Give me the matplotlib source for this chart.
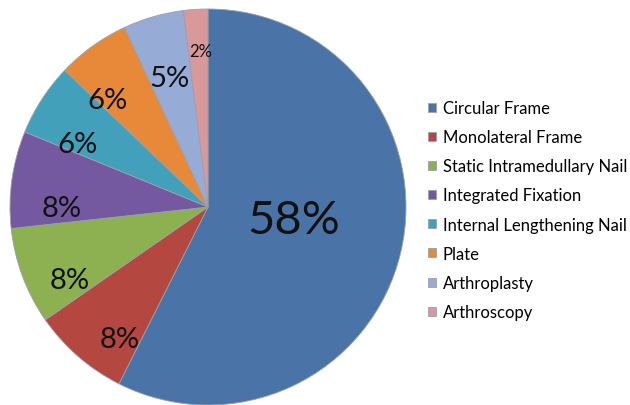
import matplotlib
matplotlib.use("Agg")
import matplotlib.pyplot as plt
import numpy as np

plt.rcParams['font.family'] = ['Lato', 'DejaVu Sans']

# data
categories = ['Circular Frame', 'Monolateral Frame', 'Static Intramedullary Nail',
              'Integrated Fixation', 'Internal Lengthening Nail', 'Plate',
              'Arthroplasty', 'Arthroscopy']
shares = [58, 8, 8, 8, 6, 6, 5, 2]
pct_labels = ['58%', '8%', '8%', '8%', '6%', '6%', '5%', '2%']

colors = ['#4A74A8', '#B4473F', '#8DB051', '#7459A0', '#42A0BA',
          '#E8893A', '#96ABD5', '#D9989A']
# label placement: fraction of radius, and angular shift (deg, clockwise) from the wedge middle
label_dist = [0.44, 0.80, 0.79, 0.74, 0.73, 0.74, 0.68, 0.79]
label_shift = [-4.8, -7.3, -7.4, -8.4, -7.1, -7.5, -0.5, 0.9]
label_size = [34, 21, 21, 21, 21, 21, 21, 12]

fig = plt.figure(figsize=(6.30, 4.06), dpi=100)
ax = fig.add_axes([10 / 630, 0, 396 / 630, 396 / 406])

wedges, _ = ax.pie(shares, colors=colors, startangle=90, counterclock=False,
                   radius=1.0, wedgeprops=dict(linewidth=0.6, edgecolor='#9aa0aa'))
ax.set_xlim(-1, 1)
ax.set_ylim(-1, 1)
ax.set_aspect('equal')

for w, txt, d, sh, fs in zip(wedges, pct_labels, label_dist, label_shift, label_size):
    mid = np.deg2rad((w.theta1 + w.theta2) / 2 - sh)
    ax.text(d * np.cos(mid), d * np.sin(mid), txt, ha='center', va='center',
            fontsize=fs, color='#111111')

fig.legend(wedges, categories, loc='upper left', bbox_to_anchor=(428 / 630, 1 - 101 / 406),
           frameon=False, fontsize=12, handlelength=0.45, handleheight=0.45,
           handletextpad=0.45, labelspacing=0.79, borderpad=0, borderaxespad=0)

fig.savefig('out.png', dpi=100)
